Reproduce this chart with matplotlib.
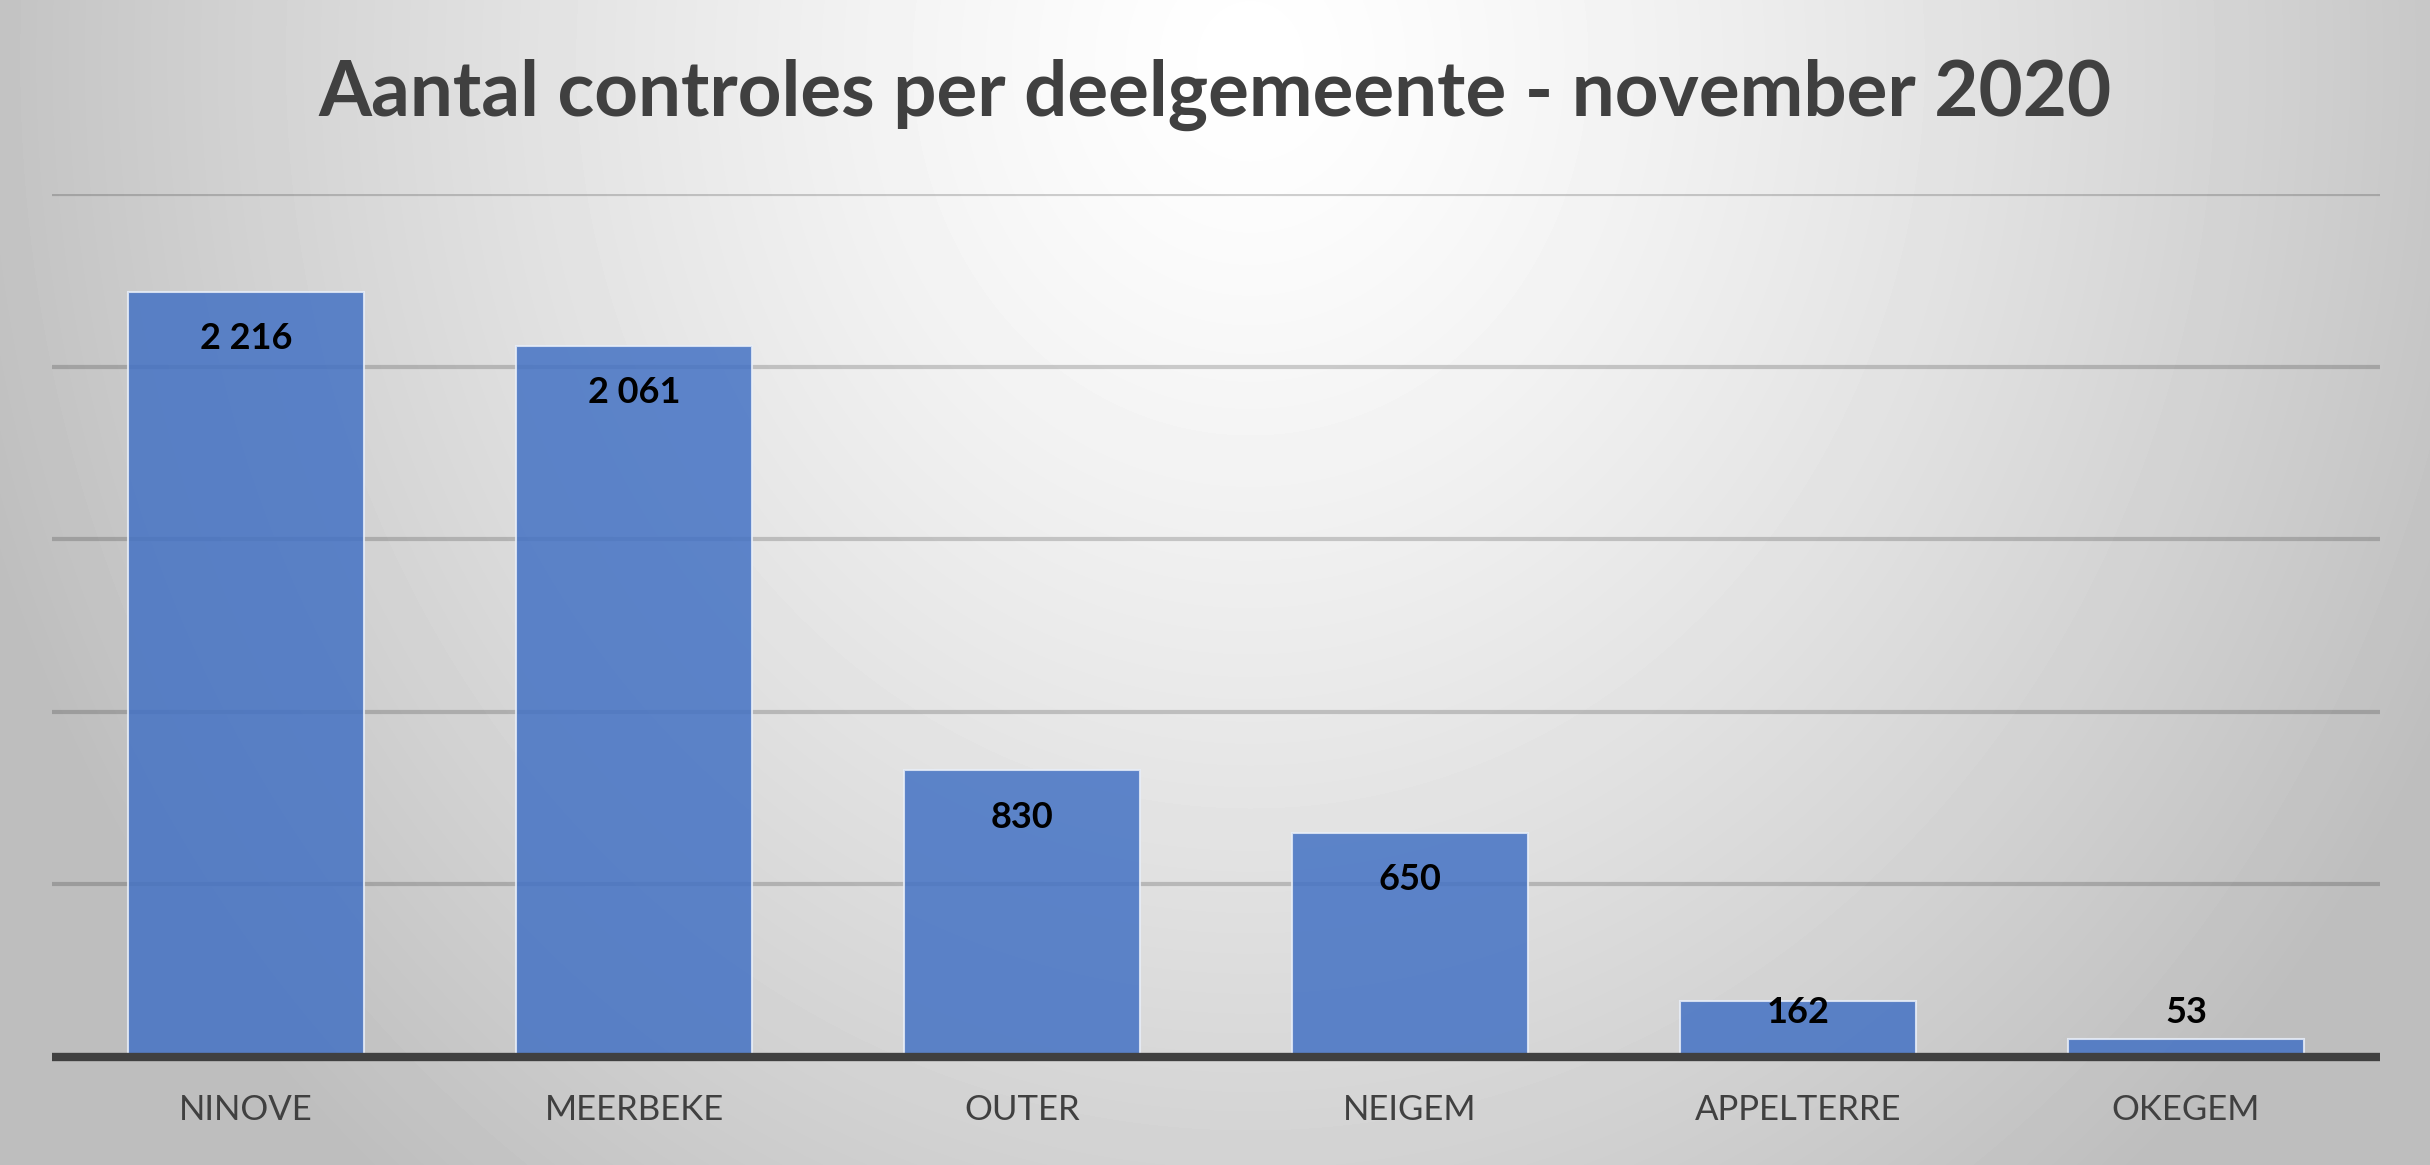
import numpy as np
import matplotlib.pyplot as plt

# data
deelgemeenten = ["NINOVE", "MEERBEKE", "OUTER", "NEIGEM", "APPELTERRE", "OKEGEM"]
controles = [2216, 2061, 830, 650, 162, 53]
titel = "Aantal controles per deelgemeente - november 2020"

W, H = 2430, 1165
fig = plt.figure(figsize=(W / 100, H / 100), dpi=100)

# background: light spot at top centre, grey towards the edges
bg = fig.add_axes([0, 0, 1, 1], zorder=-10)
yy, xx = np.mgrid[0:H, 0:W]
rx = (xx - 1250) / 1250
ry = (yy - 60) / 1040 * 0.75
drop = 60 * (rx ** 2 + ry ** 2) ** 0.65
grey = np.clip(255 - drop, 190, 255) / 255
bg.imshow(grey, cmap="gray", vmin=0, vmax=1, aspect="auto", interpolation="bilinear")
bg.axis("off")
fig.patch.set_edgecolor("#b8b8b8")
fig.patch.set_linewidth(3)

ax = fig.add_axes([52 / W, 1 - 1057 / H, (2380 - 52) / W, (1057 - 194) / H])
ax.patch.set_alpha(0)

x = np.arange(len(deelgemeenten))
ax.bar(x, controles, width=0.606, color="#4472C4", alpha=0.85,
       edgecolor="#e8eef8", linewidth=1.5, zorder=3)

for xi, v in zip(x, controles):
    ax.text(xi, max(v - 136, 130), f"{v:,}".replace(",", " "),
            ha="center", va="center", fontsize=26, fontweight="bold",
            family="Lato", color="black", zorder=4)

ax.set_xlim(-0.5, len(deelgemeenten) - 0.5)
ax.set_ylim(0, 2500)
ax.set_yticks(np.arange(500, 2501, 500))
ax.yaxis.grid(True, color="black", alpha=0.18, linewidth=3, zorder=1)
ax.set_axisbelow(True)
ax.tick_params(axis="y", left=False, labelleft=False)
ax.set_xticks(x)
ax.set_xticklabels(deelgemeenten, fontsize=25, family="Lato", color="#404040")
ax.tick_params(axis="x", length=0, pad=27)
for s in ["top", "right", "left"]:
    ax.spines[s].set_visible(False)
ax.spines["bottom"].set_color("#404040")
ax.spines["bottom"].set_linewidth(6)
ax.spines["bottom"].set_capstyle("butt")
ax.spines["bottom"].set_zorder(5)

fig.text(0.5, 1 - 95 / H, titel, ha="center", va="center", fontsize=55,
         fontweight="bold", family="Lato", color="#404040")

fig.savefig("out.png", dpi=100)
